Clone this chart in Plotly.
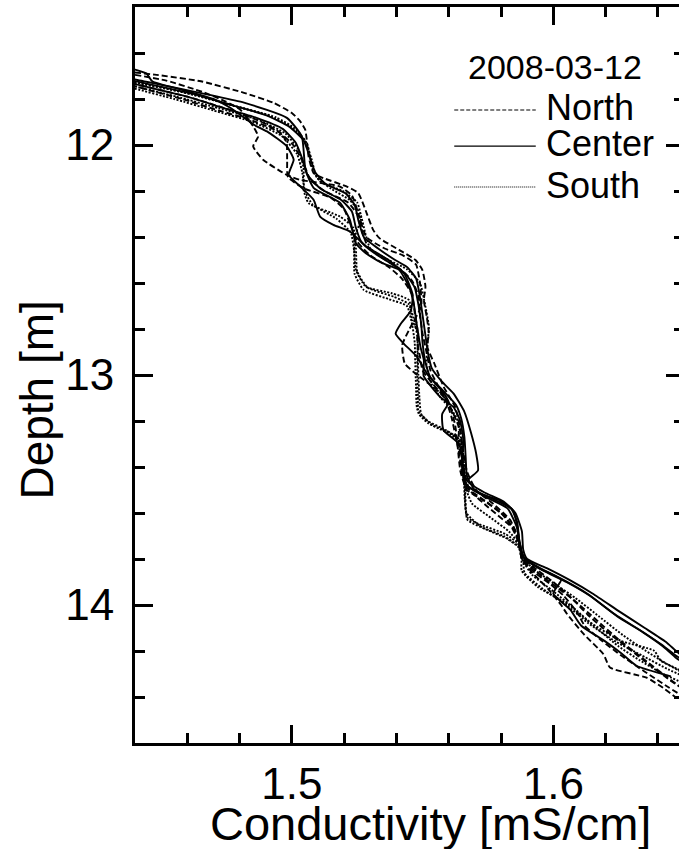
import plotly.graph_objects as go

# Conductivity profiles (mS/cm) against depth (m), 2008-03-12
# ---- North casts (dashed) ----
north_1_depth = [11.685, 11.694, 11.723, 11.773, 11.817, 11.861, 11.897, 11.933, 11.977, 12.050, 12.122, 12.144,
                 12.180, 12.209, 12.296, 12.369, 12.404, 12.456, 12.500, 12.543, 12.616, 12.674, 12.747, 12.819,
                 12.878, 12.95, 13.05, 13.14, 13.24, 13.33, 13.42, 13.50, 13.56, 13.63, 13.72, 13.80, 13.86,
                 13.92, 13.98, 14.06, 14.15, 14.23, 14.30, 14.36, 14.40]
north_1_cond = [1.440, 1.4475, 1.4652, 1.4817, 1.4931, 1.5000, 1.5032, 1.5051, 1.5057, 1.5064, 1.5083, 1.5121,
                1.5209, 1.5254, 1.5286, 1.5311, 1.5334, 1.5410, 1.5473, 1.5499, 1.5511, 1.5505, 1.5516, 1.5524,
                1.5518, 1.5545, 1.5580, 1.5625, 1.5645, 1.5655, 1.5670, 1.5705, 1.5770, 1.5835, 1.5870, 1.5885,
                1.5940, 1.6010, 1.6080, 1.6160, 1.6250, 1.6340, 1.6420, 1.6490, 1.6550]

north_2_depth = [11.695, 11.72, 11.77, 11.81, 11.846, 11.919, 11.963, 12.006, 12.064, 12.129, 12.151, 12.180,
                 12.22, 12.30, 12.40, 12.45, 12.48, 12.52, 12.60, 12.70, 12.80, 12.87, 12.95, 13.00, 13.06,
                 13.12, 13.22, 13.32, 13.42, 13.50, 13.55, 13.62, 13.72, 13.80, 13.86, 13.91, 13.96, 14.03,
                 14.09, 14.15, 14.22, 14.29, 14.35, 14.40]
north_2_cond = [1.440, 1.452, 1.466, 1.4745, 1.4802, 1.4852, 1.4871, 1.4852, 1.4890, 1.4979, 1.5030, 1.5182,
                1.5230, 1.5255, 1.5285, 1.5355, 1.5425, 1.5475, 1.5490, 1.5495, 1.5450, 1.5422, 1.5432, 1.5480,
                1.5550, 1.5600, 1.5625, 1.5635, 1.5645, 1.5670, 1.5740, 1.5820, 1.5865, 1.5880, 1.5930, 1.5990,
                1.6040, 1.6090, 1.6120, 1.6180, 1.6260, 1.6350, 1.6430, 1.6500]

north_3_depth = [11.71, 11.735, 11.79, 11.85, 11.90, 11.95, 11.99, 12.07, 12.14, 12.19, 12.23, 12.28, 12.35,
                 12.42, 12.48, 12.53, 12.58, 12.65, 12.73, 12.80, 12.86, 12.92, 12.98, 13.04, 13.10, 13.18,
                 13.26, 13.34, 13.42, 13.49, 13.54, 13.60, 13.67, 13.74, 13.80, 13.86, 13.93, 14.00, 14.038,
                 14.126, 14.214, 14.272, 14.316, 14.36, 14.403, 14.45]
north_3_cond = [1.432, 1.440, 1.460, 1.477, 1.4885, 1.4960, 1.4980, 1.4982, 1.4985, 1.5050, 1.5150, 1.5200,
                1.5225, 1.5250, 1.5300, 1.5370, 1.5420, 1.5460, 1.5470, 1.5480, 1.5480, 1.5490, 1.5500, 1.5540,
                1.5585, 1.5610, 1.5625, 1.5640, 1.5650, 1.5670, 1.5730, 1.5800, 1.5850, 1.5870, 1.5880, 1.5920,
                1.5980, 1.6030, 1.6052, 1.6116, 1.6192, 1.6217, 1.6357, 1.6420, 1.6471, 1.6550]

north_4_depth = [11.72, 11.745, 11.80, 11.85, 11.89, 11.94, 12.00, 12.08, 12.15, 12.20, 12.25, 12.31, 12.38,
                 12.44, 12.49, 12.54, 12.59, 12.66, 12.74, 12.82, 12.90, 12.98, 13.06, 13.139, 13.226, 13.313,
                 13.357, 13.42, 13.50, 13.575, 13.676, 13.74, 13.79, 13.84, 13.90, 13.97, 14.04, 14.12, 14.20,
                 14.27, 14.33, 14.38]
north_4_cond = [1.432, 1.440, 1.458, 1.472, 1.484, 1.4945, 1.5005, 1.5045, 1.5070, 1.5125, 1.5215, 1.5255,
                1.5270, 1.5290, 1.5345, 1.5415, 1.5460, 1.5485, 1.5490, 1.5500, 1.5515, 1.5530, 1.5565, 1.5606,
                1.5638, 1.5638, 1.5651, 1.5660, 1.5680, 1.5751, 1.5853, 1.5870, 1.5880, 1.5930, 1.6000, 1.6070,
                1.6130, 1.6210, 1.6300, 1.6380, 1.6450, 1.6520]

# ---- Center casts (solid) ----
center_1_depth = [11.695, 11.715, 11.816, 11.882, 11.963, 12.108, 12.186, 12.251, 12.325, 12.427, 12.471,
                  12.514, 12.543, 12.616, 12.688, 12.790, 12.878, 12.936, 13.004, 13.095, 13.139, 13.197,
                  13.284, 13.386, 13.473, 13.516, 13.546, 13.590, 13.677, 13.749, 13.800, 13.843, 13.894,
                  13.952, 14.039, 14.112, 14.170, 14.214, 14.28]
center_1_cond = [1.432, 1.440, 1.4817, 1.4981, 1.5038, 1.5052, 1.5083, 1.5184, 1.5222, 1.5245, 1.5283,
                 1.5346, 1.5410, 1.5448, 1.5466, 1.5479, 1.5492, 1.5505, 1.5504, 1.5567, 1.5618, 1.5643,
                 1.5656, 1.5650, 1.5662, 1.5720, 1.5796, 1.5847, 1.5865, 1.5872, 1.5892, 1.5955, 1.6044,
                 1.6132, 1.6234, 1.6335, 1.6411, 1.6462, 1.6550]

center_2_depth = [11.655, 11.672, 11.690, 11.723, 11.76, 11.80, 11.839, 11.912, 11.941, 12.006, 12.064, 12.129,
                  12.180, 12.238, 12.311, 12.347, 12.376, 12.44, 12.50, 12.56, 12.65, 12.72, 12.78, 12.82,
                  12.86, 12.92, 13.00, 13.07, 13.12, 13.17, 13.24, 13.30, 13.40, 13.48, 13.53, 13.58, 13.66,
                  13.75, 13.80, 13.85, 13.90, 13.96, 14.05, 14.12, 14.18, 14.23, 14.29]
center_2_cond = [1.435, 1.440, 1.4445, 1.4466, 1.458, 1.470, 1.4766, 1.4855, 1.4905, 1.4981, 1.5007, 1.4988,
                 1.5032, 1.5083, 1.5108, 1.5159, 1.5222, 1.5283, 1.5370, 1.5430, 1.5462, 1.5455, 1.5415, 1.5397,
                 1.5425, 1.5478, 1.5520, 1.5575, 1.5600, 1.5575, 1.5580, 1.5640, 1.5655, 1.5670, 1.5740, 1.5825,
                 1.5860, 1.5875, 1.5890, 1.5960, 1.6050, 1.6140, 1.6245, 1.6345, 1.6420, 1.6470, 1.6550]

center_3_depth = [11.70, 11.722, 11.78, 11.83, 11.87, 11.92, 11.98, 12.05, 12.12, 12.17, 12.21, 12.26, 12.33,
                  12.40, 12.45, 12.50, 12.53, 12.58, 12.66, 12.74, 12.82, 12.90, 12.97, 13.03, 13.08, 13.16,
                  13.25, 13.342, 13.415, 13.46, 13.51, 13.55, 13.60, 13.68, 13.76, 13.80, 13.84, 13.89, 13.95,
                  14.03, 14.10, 14.16, 14.21, 14.27]
center_3_cond = [1.432, 1.440, 1.463, 1.478, 1.490, 1.499, 1.5045, 1.5068, 1.5090, 1.5130, 1.5205, 1.5240,
                 1.5255, 1.5275, 1.5330, 1.5395, 1.5440, 1.5475, 1.5490, 1.5500, 1.5510, 1.5520, 1.5535, 1.5575,
                 1.5618, 1.5660, 1.5685, 1.5705, 1.5712, 1.5672, 1.5735, 1.5810, 1.5855, 1.5880, 1.5885, 1.5900,
                 1.5975, 1.6060, 1.6150, 1.6255, 1.6350, 1.6430, 1.6480, 1.6560]

center_4_depth = [11.71, 11.735, 11.79, 11.84, 11.88, 11.93, 11.99, 12.06, 12.13, 12.19, 12.24, 12.29, 12.36,
                  12.42, 12.47, 12.52, 12.56, 12.62, 12.70, 12.78, 12.86, 12.94, 13.01, 13.07, 13.13, 13.19,
                  13.27, 13.36, 13.44, 13.50, 13.54, 13.58, 13.64, 13.72, 13.79, 13.84, 13.89, 13.95, 14.02,
                  14.09, 14.156, 14.21, 14.264, 14.31]
center_4_cond = [1.432, 1.440, 1.460, 1.474, 1.486, 1.4965, 1.5015, 1.5040, 1.5060, 1.5110, 1.5190, 1.5230,
                 1.5245, 1.5265, 1.5315, 1.5385, 1.5435, 1.5470, 1.5485, 1.5495, 1.5500, 1.5510, 1.5530, 1.5580,
                 1.5628, 1.5648, 1.5660, 1.5665, 1.5670, 1.5700, 1.5770, 1.5838, 1.5862, 1.5870, 1.5885, 1.5945,
                 1.6030, 1.6000, 1.6065, 1.6107, 1.6196, 1.6260, 1.6318, 1.6450]

# ---- South casts (dotted) ----
south_1_depth = [11.70, 11.728, 11.77, 11.83, 11.88, 11.93, 12.00, 12.10, 12.16, 12.20, 12.25, 12.32, 12.40,
                 12.456, 12.543, 12.616, 12.645, 12.674, 12.761, 12.819, 12.90, 12.993, 13.09, 13.168, 13.211,
                 13.241, 13.284, 13.40, 13.502, 13.618, 13.647, 13.691, 13.734, 13.793, 13.851, 13.923, 13.996,
                 14.069, 14.156, 14.199, 14.242, 14.271, 14.31]
south_1_cond = [1.432, 1.440, 1.458, 1.478, 1.494, 1.5015, 1.5060, 1.5078, 1.5110, 1.5195, 1.5250, 1.5265,
                1.5240, 1.5239, 1.5245, 1.5283, 1.5384, 1.5448, 1.5460, 1.5483, 1.5480, 1.5480, 1.5482, 1.5485,
                1.5523, 1.5587, 1.5645, 1.5655, 1.5663, 1.5670, 1.5713, 1.5816, 1.5866, 1.5879, 1.5879, 1.5942,
                1.6056, 1.6132, 1.6259, 1.6386, 1.6411, 1.6462, 1.6530]

south_2_depth = [11.72, 11.745, 11.79, 11.84, 11.89, 11.95, 12.02, 12.10, 12.195, 12.253, 12.311, 12.36, 12.45,
                 12.55, 12.62, 12.66, 12.69, 12.75, 12.83, 12.92, 13.00, 13.10, 13.17, 13.22, 13.26, 13.30,
                 13.40, 13.50, 13.60, 13.66, 13.70, 13.75, 13.80, 13.86, 13.93, 14.00, 14.08, 14.16, 14.22,
                 14.28, 14.32]
south_2_cond = [1.432, 1.440, 1.456, 1.472, 1.487, 1.4975, 1.5025, 1.5045, 1.5045, 1.5064, 1.5184, 1.5235,
                1.5245, 1.5250, 1.5290, 1.5390, 1.5445, 1.5465, 1.5480, 1.5482, 1.5484, 1.5488, 1.5495, 1.5540,
                1.5610, 1.5650, 1.5658, 1.5662, 1.5668, 1.5725, 1.5810, 1.5872, 1.5885, 1.5890, 1.5960, 1.6050,
                1.6135, 1.6240, 1.6340, 1.6440, 1.6520]

south_3_depth = [11.70, 11.725, 11.78, 11.83, 11.87, 11.92, 11.98, 12.06, 12.14, 12.19, 12.24, 12.30, 12.38,
                 12.45, 12.50, 12.54, 12.60, 12.703, 12.79, 12.878, 12.96, 13.04, 13.10, 13.15, 13.20, 13.30,
                 13.40, 13.50, 13.56, 13.62, 13.68, 13.74, 13.79, 13.84, 13.90, 13.97, 14.05, 14.13, 14.20,
                 14.26, 14.31]
south_3_cond = [1.432, 1.440, 1.462, 1.478, 1.4905, 1.4995, 1.5050, 1.5075, 1.5095, 1.5150, 1.5222, 1.5262,
                1.5280, 1.5300, 1.5370, 1.5440, 1.5490, 1.5511, 1.5524, 1.5518, 1.5515, 1.5535, 1.5570, 1.5610,
                1.5635, 1.5650, 1.5660, 1.5668, 1.5690, 1.5760, 1.5830, 1.5872, 1.5882, 1.5920, 1.5995, 1.6085,
                1.6175, 1.6265, 1.6355, 1.6440, 1.6520]

south_4_depth = [11.73, 11.755, 11.80, 11.85, 11.90, 11.96, 12.04, 12.12, 12.20, 12.26, 12.32, 12.38, 12.46,
                 12.56, 12.63, 12.67, 12.70, 12.78, 12.86, 12.95, 13.05, 13.15, 13.20, 13.24, 13.28, 13.35,
                 13.45, 13.55, 13.63, 13.67, 13.71, 13.75, 13.80, 13.87, 13.94, 14.02, 14.10, 14.18, 14.24,
                 14.30, 14.34]
south_4_cond = [1.432, 1.440, 1.455, 1.470, 1.485, 1.4960, 1.5020, 1.5040, 1.5050, 1.5080, 1.5170, 1.5225,
                1.5238, 1.5240, 1.5275, 1.5370, 1.5440, 1.5460, 1.5470, 1.5472, 1.5475, 1.5480, 1.5520, 1.5590,
                1.5640, 1.5652, 1.5658, 1.5662, 1.5672, 1.5740, 1.5820, 1.5868, 1.5880, 1.5920, 1.6000, 1.6085,
                1.6165, 1.6250, 1.6330, 1.6420, 1.6500]

survey_date = "2008-03-12"
group_names = ["North", "Center", "South"]
x_range = [1.44, 1.65]
y_range = [14.6, 11.4]

FONT = "Liberation Sans, Arial, Helvetica, sans-serif"
DASH_STYLE = {"North": "6px,3px", "Center": "solid", "South": "2px,1.6px"}
LEGEND_DASH = {"North": "4px,2px", "Center": "solid", "South": "1px,1px"}

profiles = {
    "North": [(north_1_cond, north_1_depth), (north_2_cond, north_2_depth),
              (north_3_cond, north_3_depth), (north_4_cond, north_4_depth)],
    "Center": [(center_1_cond, center_1_depth), (center_2_cond, center_2_depth),
               (center_3_cond, center_3_depth), (center_4_cond, center_4_depth)],
    "South": [(south_1_cond, south_1_depth), (south_2_cond, south_2_depth),
              (south_3_cond, south_3_depth), (south_4_cond, south_4_depth)],
}

fig = go.Figure()
for name in group_names:
    for cond, depth in profiles[name]:
        fig.add_trace(go.Scatter(
            x=cond, y=depth, mode="lines", name=name, showlegend=False,
            line=dict(color="black", width=1.9, dash=DASH_STYLE[name], shape="spline", smoothing=0.5),
            hoverinfo="skip",
        ))

# legend block drawn as line keys and text
legend_rows = [("North", 0.860, 0.863), ("Center", 0.811, 0.815), ("South", 0.7554, 0.757)]
shapes = []
annotations = []
for name, y_line, y_text in legend_rows:
    shapes.append(dict(type="line", xref="paper", yref="paper", x0=0.5815, x1=0.730, y0=y_line, y1=y_line,
                       line=dict(color="black", width=1.1, dash=LEGEND_DASH[name])))
    annotations.append(dict(text=name, xref="paper", yref="paper", x=0.7446, y=y_text,
                            xanchor="left", yanchor="middle", showarrow=False,
                            font=dict(family=FONT, size=36, color="black")))
annotations.append(dict(text=survey_date, xref="paper", yref="paper", x=0.7645, y=0.919,
                        xanchor="center", yanchor="middle", showarrow=False,
                        font=dict(family=FONT, size=34, color="black")))
annotations.append(dict(text="Conductivity [mS/cm]", xref="paper", yref="paper", x=0.538, y=-0.109,
                        xanchor="center", yanchor="middle", showarrow=False,
                        font=dict(family=FONT, size=47, color="black")))
annotations.append(dict(text="Depth [m]", xref="paper", yref="paper", x=-0.1793, y=0.466,
                        xanchor="center", yanchor="middle", showarrow=False, textangle=-90,
                        font=dict(family=FONT, size=46, color="black")))

axis_common = dict(showgrid=False, zeroline=False, ticks="inside", tickcolor="black",
                   showline=True, linecolor="black", linewidth=3, mirror="allticks",
                   ticklen=18, tickwidth=3,
                   tickfont=dict(family=FONT, size=44, color="black"))

# the frame runs slightly past the window on the right, so the right spine sits out of view
fig.update_layout(
    width=687, height=849,
    margin=dict(l=135, r=0, t=7, b=106),
    paper_bgcolor="white", plot_bgcolor="white",
    showlegend=False,
    shapes=shapes, annotations=annotations,
    xaxis=dict(range=x_range, dtick=0.1, tick0=1.4, tickformat=".1f", ticklabelstandoff=0,
               minor=dict(dtick=0.02, tick0=1.4, ticks="inside", ticklen=10, tickwidth=2.5,
                          tickcolor="black"),
               **axis_common),
    yaxis=dict(range=y_range, dtick=1, tick0=12, ticklabelstandoff=9,
               minor=dict(dtick=0.2, tick0=12, ticks="inside", ticklen=10, tickwidth=2.5,
                          tickcolor="black"),
               **axis_common),
)

fig.write_html("out.html")
